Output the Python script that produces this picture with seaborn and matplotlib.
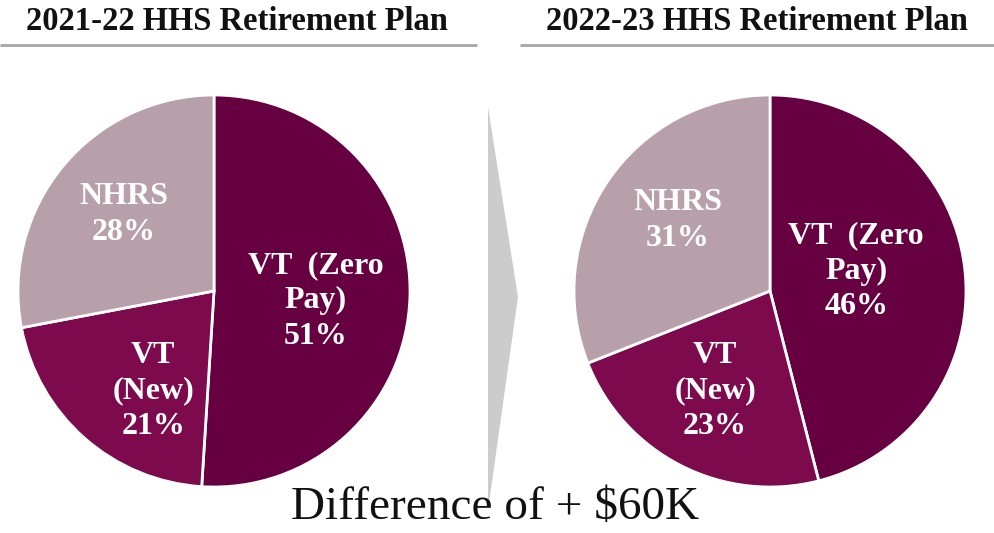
import matplotlib
matplotlib.use("Agg")
import matplotlib.pyplot as plt
from matplotlib.patches import Polygon
import seaborn as sns

# ---- data ----
categories = ["VT  (Zero\nPay)", "VT\n(New)", "NHRS"]
share_2122 = [51, 21, 28]
share_2223 = [46, 23, 31]
titles = ["2021-22 HHS Retirement Plan", "2022-23 HHS Retirement Plan"]
footer = "Difference of + $60K"

colors = ["#660040", "#7c0a4c", "#b8a0aa"]

sns.set_theme(style="white")
plt.rcParams["font.family"] = ["Liberation Serif", "DejaVu Serif"]

W, H = 995, 533
fig = plt.figure(figsize=(W / 100, H / 100), dpi=100)
fig.patch.set_facecolor("white")

# overlay axes in pixel coordinates for decorations
deco = fig.add_axes([0, 0, 1, 1])
deco.set_xlim(0, W)
deco.set_ylim(H, 0)
deco.axis("off")


def pie_axes(cx, cy, r):
    return fig.add_axes([(cx - r) / W, (H - (cy + r)) / H, 2 * r / W, 2 * r / H])


# label placement (fraction of radius)
label_pos = {
    0: [(0.52, -0.05), (-0.31, -0.51), (-0.46, 0.39)],
    1: [(0.44, 0.10), (-0.28, -0.51), (-0.47, 0.36)],
}

for i, (vals, cx) in enumerate([(share_2122, 214), (share_2223, 770)]):
    ax = pie_axes(cx, 291, 196)
    ax.pie(vals, colors=colors, startangle=90, counterclock=False, radius=1,
           wedgeprops=dict(edgecolor="white", linewidth=2))
    ax.set_xlim(-1, 1)
    ax.set_ylim(-1, 1)
    ax.set_aspect("equal")
    ax.axis("off")
    for j, (cat, v) in enumerate(zip(categories, vals)):
        x, y = label_pos[i][j]
        ax.text(x, y, f"{cat}\n{v}%", ha="center", va="center", multialignment="center",
                color="white", fontsize=23, fontweight="bold", linespacing=1.28)

# titles and underlines
deco.text(237, 21, titles[0], ha="center", va="center", fontsize=23.5, fontweight="bold", color="#111111")
deco.text(757, 21, titles[1], ha="center", va="center", fontsize=23.5, fontweight="bold", color="#111111")
deco.plot([0, 477], [45, 45], color="#a6a6a6", lw=2, solid_capstyle="butt")
deco.plot([520, 995], [45, 45], color="#a6a6a6", lw=2, solid_capstyle="butt")

# chevron arrow
deco.add_patch(Polygon([(488, 107), (518, 297), (488, 510)], closed=True,
                       facecolor="#cccccc", edgecolor="none", zorder=1))

# footer
deco.text(495, 508, footer, ha="center", va="center", fontsize=34, color="#111111", zorder=3)

fig.savefig("out.png", dpi=100, facecolor="white")
